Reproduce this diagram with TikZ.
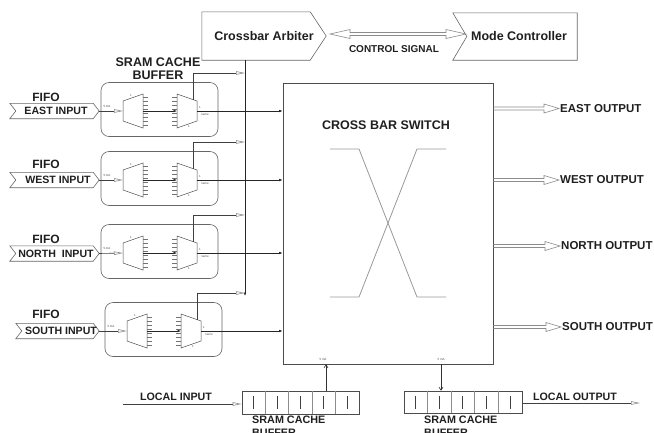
\documentclass[tikz,border=0pt]{standalone}
\usepackage{fontspec}
\setmainfont{Liberation Sans}
\usetikzlibrary{arrows.meta,calc}
\tikzset{
  lbl/.style={font=\bfseries\fontsize{#1}{13}\selectfont, inner sep=0pt, text=black!88},
  lbl/.default=11.5,
  tiny/.style={font=\fontsize{3}{3}\selectfont, inner sep=0pt, text=black!70},
  boxl/.style={draw=black!60, line width=0.6pt},
  muxl/.style={draw=black!70, line width=0.5pt},
  tickl/.style={draw=black!55, line width=0.4pt},
  shapel/.style={draw=black!60, line width=0.6pt},
  fillarrow/.style={draw=black!85, line width=0.6pt, -{Latex[length=3.5pt,width=2.6pt]}},
  garrow/.style={draw=black!75, line width=0.6pt, -{Triangle[open,length=9pt,width=3.5pt,color=black!45]}},
  hol/.style={draw=black!45, line width=0.6pt},
  sigbody/.style={draw=none, minimum height=15pt, inner sep=0pt},
  muxunit/.pic={
    \draw[boxl, rounded corners=8pt] (0,-28.5) rectangle (117,25.5);
    \draw[muxl] (22,-10) -- (42,-17) -- (42,17) -- (22,10) -- cycle;
    \foreach \t in {-14,-10,...,14} {\draw[tickl] (42,\t) -- (47,\t);}
    \draw[muxl] (76,-17) -- (96,-10) -- (96,10) -- (76,17) -- cycle;
    \foreach \t in {-14,-10,...,14} {\draw[tickl] (71,\t) -- (76,\t);}
    \coordinate (-in) at (22,0);
    \coordinate (-m1) at (42,0);
    \coordinate (-m2) at (76,0);
    \coordinate (-out) at (96,0);
    \coordinate (-up) at (92,-11.4);
    \coordinate (-upc) at (92,-38);
    \draw[fillarrow] (-m1) -- (-m2);
    \node[tiny] (-t1) at (30,-15.5) {1};
    \node[tiny] (-t2) at (99,-4) {1};
    \node[tiny] (-t3) at (104,4) {name};
    \node[tiny] (-t4) at (88,15.5) {1};
    \node[tiny] (-t5) at (6,-5) {5 mA};
  }
}
\newcommand{\sigshape}[1]{\draw[shapel] ($(#1.north west)+(-6,0)$) -- (#1.north east) -- ($(#1.east)+(6,0)$) -- (#1.south east) -- ($(#1.south west)+(-6,0)$) -- (#1.west) -- cycle;}
\newcommand{\hollowR}[2]{\draw[hol] ($(#1)+(0,-1.5)$) -- ($(#2)+(-15,-1.5)$) -- ($(#2)+(-15,-4.5)$) -- (#2) -- ($(#2)+(-15,4.5)$) -- ($(#2)+(-15,1.5)$) -- ($(#1)+(0,1.5)$);}
\begin{document}
\begin{tikzpicture}[x=1pt,y=-1pt]
\fill[white] (0,0) rectangle (654,432);
\useasboundingbox (0,0) rectangle (654,432);

% top blocks
\node[draw=none, minimum width=124pt, minimum height=48pt, inner sep=0pt] (arb) at (264,36) {};
\draw[shapel] (arb.north west) -- ($(arb.north east)+(-16,0)$) -- (arb.east) -- ($(arb.south east)+(-16,0)$) -- (arb.south west) -- cycle;
\node[lbl=12.5] (arbt) at (264,36) {Crossbar Arbiter};

\node[draw=none, minimum width=120pt, minimum height=47pt, inner sep=0pt] (mode) at (517,36.5) {};
\draw[shapel] ($(mode.north west)+(-4,0)$) -- (mode.north east) -- (mode.south east) -- ($(mode.south west)+(-4,0)$) -- ($(mode.west)+(10,0)$) -- cycle;
\node[lbl=12.5] (modet) at (519,36) {Mode Controller};

\coordinate (cl) at (330,34);
\coordinate (cr) at (466,34);
\draw[hol] (cl) -- ++(20,-4.5) -- ++(0,3) -- ($(cr)+(-20,-1.5)$) -- ++(0,-3) -- (cr) -- ++(-20,4.5) -- ++(0,-3) -- ($(cl)+(20,1.5)$) -- ++(0,3) -- cycle;
\node[lbl=10] (ctl) at (394,49) {CONTROL SIGNAL};

% crossbar
\node[draw=black!70, line width=0.7pt, minimum width=210pt, minimum height=281pt, inner sep=0pt] (xbar) at (388,223.5) {};
\node[lbl=12.5] (xbart) at (386,125) {CROSS BAR SWITCH};
\draw[draw=black!40, line width=0.8pt] (330,149) -- (359,149) -- (417,297) -- (446,297);
\draw[draw=black!40, line width=0.8pt] (446,149) -- (417,149) -- (359,297) -- (330,297);

% SRAM label top
\node[lbl=12.5, align=center] (sramtop) at (158,68.5) {SRAM CACHE\\BUFFER};

% bus
\coordinate (bustop) at (245,60);
\coordinate (busend) at (245,296);
\draw[fillarrow] (bustop) -- (busend);

% rows
\pic (east) at (101,111) {muxunit};
\pic (west) at (101,180) {muxunit};
\pic (north) at (101,253) {muxunit};
\pic (south) at (105,331) {muxunit};

% input shapes
\node[sigbody, minimum width=77pt] (ein) at (54.5,111) {};
\node[sigbody, minimum width=77pt] (win) at (54.5,180) {};
\node[sigbody, minimum width=77pt] (nin) at (54.5,253.5) {};
\node[sigbody, minimum width=71pt] (sin) at (57.5,331) {};
\sigshape{ein}\sigshape{win}\sigshape{nin}\sigshape{sin}
\node[lbl=10.6] (eint) at (56,111) {EAST INPUT};
\node[lbl=10.6] (wint) at (58,180) {WEST INPUT};
\node[lbl=10.6] (nint) at (56,253.5) {NORTH\ \ INPUT};
\node[lbl=10.6] (sint) at (61,331) {SOUTH INPUT};
\node[lbl=12] (f1) at (46,97) {FIFO};
\node[lbl=12] (f2) at (46,164) {FIFO};
\node[lbl=12] (f3) at (46,239) {FIFO};
\node[lbl=12] (f4) at (46,314) {FIFO};

\foreach \r/\s in {east/ein, west/win, north/nin, south/sin}{
  \coordinate (\s-tip) at ($(\s.east)+(6,0)$);
  \draw[garrow] (\s-tip) -- (\r-in);
  \draw[fillarrow] (\r-out) -- (\r-out -| xbar.west);
  \draw[garrow] (\r-up) -- (\r-upc) -- (\r-upc -| bustop);
}

% outputs
\node[lbl=11.5, anchor=west, inner sep=1pt] (eo) at (559,108.5) {EAST OUTPUT};
\node[lbl=11.5, anchor=west, inner sep=1pt] (wo) at (559,180) {WEST OUTPUT};
\node[lbl=11.5, anchor=west, inner sep=1pt] (no) at (560,246) {NORTH OUTPUT};
\node[lbl=11.5, anchor=west, inner sep=1pt] (so) at (561,327) {SOUTH OUTPUT};
\foreach \o in {eo,wo,no,so}{
  \coordinate (\o-s) at (xbar.east |- \o.west);
  \hollowR{\o-s}{\o.west}
}

% bottom buffers
\node[draw=black!70, line width=0.6pt, minimum width=117pt, minimum height=23pt, inner sep=0pt] (lbuf) at (300.5,402.5) {};
\node[draw=black!70, line width=0.6pt, minimum width=118pt, minimum height=22pt, inner sep=0pt] (rbuf) at (463,402) {};
\foreach \b/\w in {lbuf/117, rbuf/118}{
  \foreach \i in {1,...,4}{
    \draw[black!45, line width=0.5pt] ($(\b.north west)+(\i*\w/5,0)$) -- ($(\b.south west)+(\i*\w/5,0)$);
  }
  \foreach \i in {0,...,4}{
    \draw[black!75, line width=0.5pt] ($(\b.west)+(\i*\w/5+\w/10,-6.5)$) -- ($(\b.west)+(\i*\w/5+\w/10,6.5)$);
  }
}
\coordinate (lup) at (326,391);
\draw[draw=black!80, line width=0.6pt, -{Straight Barb[length=3pt,width=4pt]}] (lup) -- (lup |- xbar.south);
\coordinate (rdn) at (441,364);
\draw[draw=black!80, line width=0.6pt, -{Straight Barb[length=3pt,width=4pt]}] (rdn) -- (rdn |- rbuf.north);
\node[tiny] (ma1) at (323,359.5) {5 mA};
\node[tiny] (ma2) at (441,359.5) {5 mA};

\coordinate (lin) at (123,404);
\draw[garrow] (lin) -- (lin -| lbuf.west);
\node[lbl=10.7] (lint) at (176,397) {LOCAL INPUT};
\coordinate (lout) at (640,403);
\draw[garrow] (rbuf.east |- lout) -- (lout);
\node[lbl=10.7] (loutt) at (575,397) {LOCAL OUTPUT};

\node[lbl=10.8, align=left, anchor=north west] (sb1) at (252,416) {SRAM CACHE\\BUFFER};
\node[lbl=10.8, align=left, anchor=north west] (sb2) at (424,416) {SRAM CACHE\\BUFFER};
\end{tikzpicture}
\end{document}
